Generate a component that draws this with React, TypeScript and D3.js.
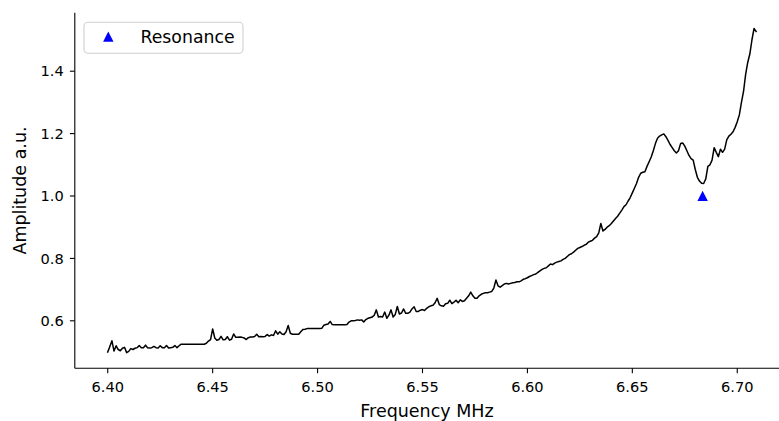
import React from "react";
import * as d3 from "d3";

// Frequency sweep: start and step of the measurement grid (MHz)
const freqStart = 6.4;
const freqStep = 0.001;

// Measured amplitude (a.u.) at each sweep point
const amplitude: number[] = [
  0.500, 0.518, 0.536, 0.503, 0.520, 0.508, 0.504, 0.512, 0.515, 0.498,
  0.502, 0.511, 0.508, 0.512, 0.514, 0.521, 0.514, 0.514, 0.522, 0.514,
  0.513, 0.514, 0.518, 0.514, 0.513, 0.520, 0.514, 0.514, 0.521, 0.513,
  0.514, 0.515, 0.521, 0.514, 0.520, 0.525, 0.525, 0.525, 0.525, 0.525,
  0.525, 0.525, 0.525, 0.525, 0.525, 0.525, 0.525, 0.528, 0.535, 0.540,
  0.574, 0.545, 0.538, 0.540, 0.550, 0.539, 0.540, 0.549, 0.538, 0.541,
  0.558, 0.547, 0.547, 0.548, 0.547, 0.545, 0.540, 0.546, 0.548, 0.548,
  0.550, 0.557, 0.549, 0.550, 0.549, 0.550, 0.556, 0.551, 0.555, 0.553,
  0.568, 0.557, 0.565, 0.558, 0.556, 0.565, 0.585, 0.560, 0.557, 0.557,
  0.557, 0.557, 0.565, 0.572, 0.573, 0.575, 0.575, 0.575, 0.575, 0.575,
  0.575, 0.575, 0.576, 0.586, 0.588, 0.590, 0.598, 0.588, 0.587, 0.587,
  0.587, 0.587, 0.587, 0.587, 0.588, 0.596, 0.600, 0.600, 0.601, 0.603,
  0.602, 0.603, 0.596, 0.604, 0.608, 0.610, 0.612, 0.618, 0.635, 0.612,
  0.614, 0.612, 0.628, 0.608, 0.618, 0.635, 0.612, 0.620, 0.646, 0.622,
  0.625, 0.638, 0.624, 0.624, 0.628, 0.638, 0.645, 0.630, 0.630, 0.634,
  0.636, 0.633, 0.640, 0.645, 0.648, 0.650, 0.658, 0.672, 0.652, 0.648,
  0.647, 0.655, 0.656, 0.666, 0.655, 0.660, 0.666, 0.658, 0.667, 0.662,
  0.664, 0.672, 0.680, 0.692, 0.680, 0.672, 0.672, 0.680, 0.685, 0.688,
  0.690, 0.690, 0.692, 0.694, 0.705, 0.731, 0.712, 0.708, 0.713, 0.718,
  0.720, 0.718, 0.720, 0.722, 0.723, 0.725, 0.725, 0.728, 0.733, 0.735,
  0.738, 0.742, 0.745, 0.748, 0.750, 0.755, 0.760, 0.765, 0.768, 0.770,
  0.776, 0.782, 0.780, 0.785, 0.788, 0.790, 0.792, 0.797, 0.800, 0.806,
  0.812, 0.815, 0.820, 0.826, 0.832, 0.835, 0.838, 0.842, 0.845, 0.852,
  0.855, 0.858, 0.865, 0.870, 0.882, 0.912, 0.888, 0.893, 0.900, 0.905,
  0.912, 0.920, 0.928, 0.935, 0.945, 0.955, 0.966, 0.972, 0.984, 0.995,
  1.010, 1.025, 1.040, 1.060, 1.073, 1.076, 1.078, 1.095, 1.110, 1.125,
  1.145, 1.168, 1.185, 1.192, 1.196, 1.199, 1.190, 1.178, 1.165, 1.155,
  1.145, 1.138, 1.145, 1.168, 1.170, 1.160, 1.145, 1.130, 1.120, 1.115,
  1.085, 1.060, 1.048, 1.041, 1.040, 1.055, 1.095, 1.100, 1.115, 1.155,
  1.140, 1.126, 1.150, 1.140, 1.150, 1.180, 1.192, 1.198, 1.206, 1.220,
  1.238, 1.260, 1.300, 1.335, 1.390, 1.428, 1.455, 1.500, 1.537, 1.527,
];

// Detected resonance
const resonanceFreq = [6.6835];
const resonanceAmp = [1.0];

// Axis ticks and limits
const xTicks = [6.4, 6.45, 6.5, 6.55, 6.6, 6.65, 6.7];
const yTicks = [0.6, 0.8, 1.0, 1.2, 1.4];
const xLimits = [6.3843, 6.7199];
const yLimits = [0.4478, 1.5875];

const W = 779;
const H = 421;
const margin = { left: 74.8, right: 0, top: 12.7, bottom: 52.7 };
const FONT = "'DejaVu Sans', sans-serif";

export default function App() {
  const x = d3
    .scaleLinear()
    .domain(xLimits)
    .range([margin.left, W - margin.right]);
  const y = d3
    .scaleLinear()
    .domain(yLimits)
    .range([H - margin.bottom, margin.top]);

  const points: [number, number][] = amplitude.map((a, i) => [
    freqStart + i * freqStep,
    a,
  ]);
  const line = d3
    .line<[number, number]>()
    .x((d) => x(d[0]))
    .y((d) => y(d[1]));

  const tri = (cx: number, cy: number, h: number) =>
    `M${cx},${cy - h}L${cx + h},${cy + h * 0.95}L${cx - h},${cy + h * 0.95}Z`;

  const x0 = margin.left;
  const yBottom = H - margin.bottom;

  return (
    <svg
      width={W}
      height={H}
      style={{ position: "absolute", left: 0, top: 0, background: "#fff" }}
      fontFamily={FONT}
    >
      <rect x={0} y={0} width={W} height={H} fill="#fff" />
      <path
        d={line(points) || ""}
        fill="none"
        stroke="#000"
        strokeWidth={1.5}
        strokeLinejoin="round"
        strokeLinecap="square"
      />
      {resonanceFreq.map((f, i) => (
        <path key={i} d={tri(x(f), y(resonanceAmp[i]), 5.2)} fill="#0000ff" />
      ))}

      {/* spines */}
      <line x1={x0} x2={x0} y1={margin.top} y2={yBottom} stroke="#000" strokeWidth={1.1} />
      <line x1={x0} x2={W} y1={yBottom} y2={yBottom} stroke="#000" strokeWidth={1.1} />

      {/* x axis */}
      {xTicks.map((t) => (
        <g key={t}>
          <line x1={x(t)} x2={x(t)} y1={yBottom} y2={yBottom + 4.9} stroke="#000" strokeWidth={1.1} />
          <text x={x(t)} y={yBottom + 23.5} textAnchor="middle" fontSize={14.6} fill="#000">
            {t.toFixed(2)}
          </text>
        </g>
      ))}
      {/* y axis */}
      {yTicks.map((t) => (
        <g key={t}>
          <line x1={x0 - 4.9} x2={x0} y1={y(t)} y2={y(t)} stroke="#000" strokeWidth={1.1} />
          <text x={x0 - 11} y={y(t)} dy="0.36em" textAnchor="end" fontSize={14.6} fill="#000">
            {t.toFixed(1)}
          </text>
        </g>
      ))}

      <text x={427} y={416.5} textAnchor="middle" fontSize={17.5} fill="#000">
        Frequency MHz
      </text>
      <text
        transform={`translate(26,${(margin.top + yBottom) / 2}) rotate(-90)`}
        textAnchor="middle"
        fontSize={17.5}
        fill="#000"
      >
        Amplitude a.u.
      </text>

      {/* legend */}
      <rect x={84} y={22.3} width={159} height={31} rx={4} fill="#fff" stroke="#d0d0d0" strokeWidth={1.1} />
      <path d={tri(108.3, 36.7, 5.2)} fill="#0000ff" />
      <text x={140.5} y={42.8} fontSize={17.3} fill="#000">
        Resonance
      </text>
    </svg>
  );
}
